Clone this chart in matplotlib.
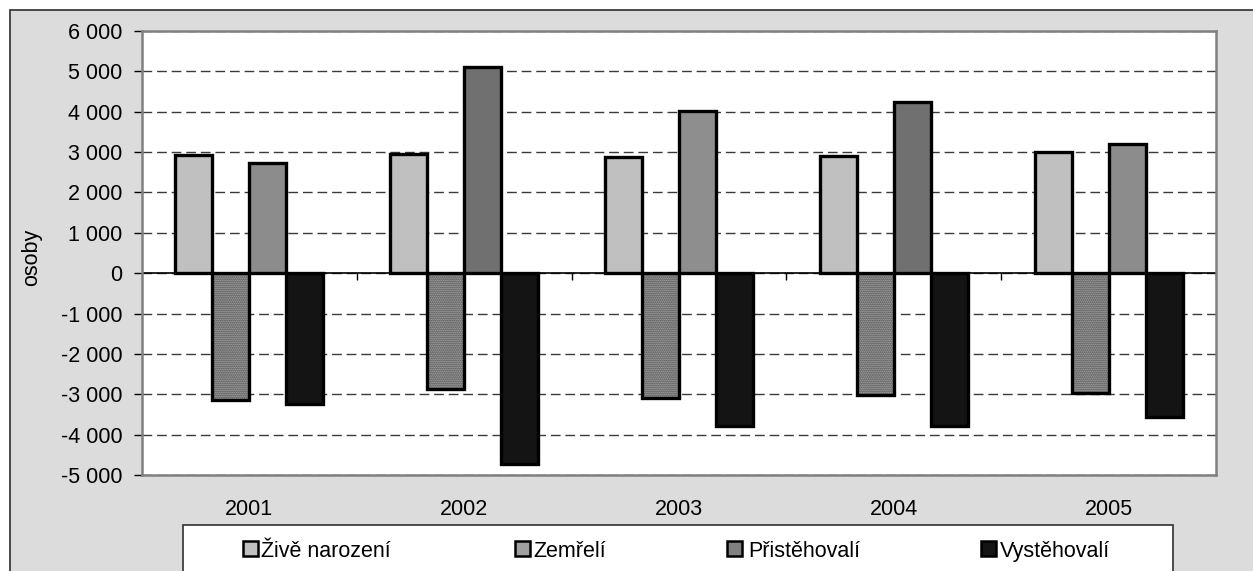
import matplotlib.pyplot as plt
from matplotlib.patches import Rectangle
from matplotlib.ticker import FuncFormatter
import numpy as np

plt.rcParams['font.family'] = ['Liberation Sans', 'DejaVu Sans']
plt.rcParams['hatch.linewidth'] = 1.0

# data
years = ['2001', '2002', '2003', '2004', '2005']
zive_narozeni = [2920, 2950, 2880, 2900, 3000]
zemreli = [-3140, -2860, -3100, -3020, -2980]
pristehovali = [2720, 5110, 4020, 4230, 3210]
vystehovali = [-3250, -4730, -3790, -3790, -3560]
series_names = ['Živě narození', 'Zemřelí', 'Přistěhovalí', 'Vystěhovalí']
y_ticks = np.arange(-5000, 6001, 1000)

W, H = 1253, 571
FS = 15.5
EDGE = 2.4


def px(x, y):
    """pixel position (from top-left) -> figure fraction"""
    return x / W, 1 - y / H


fig = plt.figure(figsize=(W / 100, H / 100), dpi=100)
fig.patch.set_facecolor('white')

# grey chart area with dark border (cut off at right and bottom)
x0, y0 = px(10, 10)
fig.patches.append(Rectangle((x0, -0.2), 1.2, y0 + 0.2, transform=fig.transFigure,
                             facecolor='#dcdcdc', edgecolor='#3c3c3c', lw=1.3, zorder=-10))

ax_l, ax_t = px(142, 31)
ax_r, ax_b = px(1216, 475)
ax = fig.add_axes([ax_l, ax_b, ax_r - ax_l, ax_t - ax_b])
ax.set_facecolor('white')

x = np.arange(len(years))
w = 0.1723
offsets = np.array([-1.5, -0.5, 0.5, 1.5]) * w

# styles per series
zive_color = '#c0c0c0'
prist_colors = ['#8c8c8c', '#707070', '#8e8e8e', '#707070', '#8c8c8c']
vyst_color = '#141414'

ax.bar(x + offsets[0], zive_narozeni, w, color=zive_color, edgecolor='black', lw=EDGE, zorder=3)
# patterned bars: hatch layer first, then outline
ax.bar(x + offsets[1], zemreli, w, color='#b4b4b4', edgecolor='#3c3c3c', hatch='........',
       lw=0, zorder=3)
ax.bar(x + offsets[1], zemreli, w, color='none', edgecolor='black', lw=EDGE, zorder=3)
ax.bar(x + offsets[2], pristehovali, w, color=prist_colors, edgecolor='black', lw=EDGE, zorder=3)
ax.bar(x + offsets[3], vystehovali, w, color=vyst_color, edgecolor='black', lw=EDGE, zorder=3)

ax.set_xlim(-0.5, len(years) - 0.5)
ax.set_ylim(y_ticks[0], y_ticks[-1])

# zero line with category boundary ticks
ax.axhline(0, color='black', lw=1.2, zorder=2)
boundaries = np.arange(0.5, len(years), 1)
ax.vlines(boundaries, -170, 0, color='black', lw=1, zorder=2)

ax.set_yticks(y_ticks)
ax.yaxis.set_major_formatter(FuncFormatter(lambda v, p: f"{v:,.0f}".replace(',', ' ')))
ax.set_xticks(x, years)
ax.tick_params(axis='x', length=0, pad=17, labelsize=FS)
ax.tick_params(axis='y', direction='out', length=6, width=1, pad=8, labelsize=FS)

ax.yaxis.grid(True, color='#3a3a3a', lw=1, linestyle=(0, (7, 3.5)))
ax.set_axisbelow(True)
for s in ax.spines.values():
    s.set_color('#808080')
    s.set_linewidth(1.8)

ax.set_ylabel('osoby', fontsize=FS)
ax.yaxis.set_label_coords((42 - 142) / (1216 - 142), 0.49)

# legend box, cut off at the bottom like the reference
lx0, ly0 = px(183, 525)
lx1, _ = px(1173, 525)
fig.patches.append(Rectangle((lx0, -0.2), lx1 - lx0, ly0 + 0.2, transform=fig.transFigure,
                             facecolor='white', edgecolor='#303030', lw=1.2, zorder=1))

swatch_x = [243, 515, 727, 981]
text_x = [261, 533, 748, 1000]
swatch_style = [
    dict(facecolor=zive_color),
    dict(facecolor='#a0a0a0'),
    dict(facecolor='#808080'),
    dict(facecolor=vyst_color),
]
for name, sx, tx, st in zip(series_names, swatch_x, text_x, swatch_style):
    bx, by = px(sx, 556)
    fig.patches.append(Rectangle((bx, by), 15 / W, 15 / H, transform=fig.transFigure,
                                 edgecolor='black', lw=1.8, zorder=2, **st))
    tx_f, ty_f = px(tx, 557)
    fig.text(tx_f, ty_f, name, fontsize=FS, va='baseline', ha='left', zorder=3)

fig.savefig('out.png', dpi=100)
